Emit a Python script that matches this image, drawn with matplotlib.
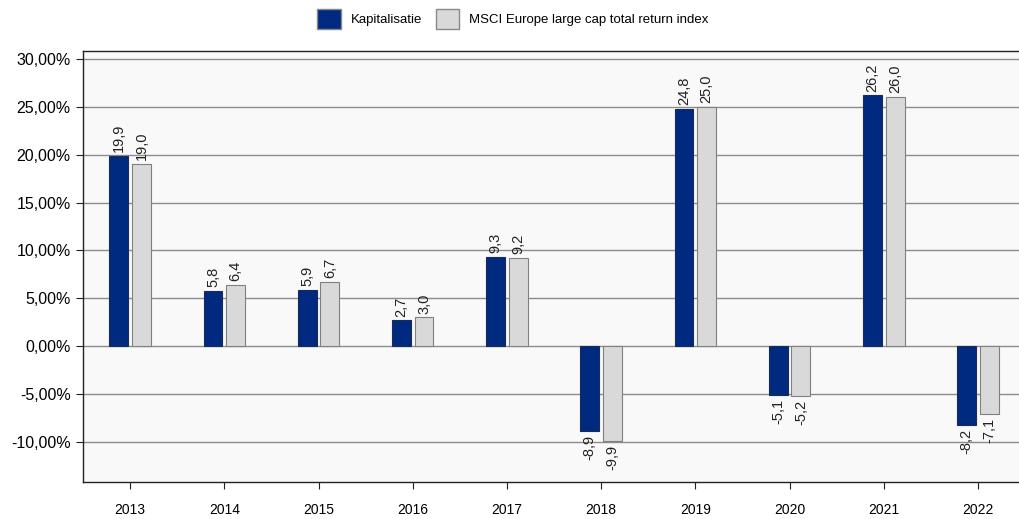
import matplotlib.pyplot as plt
import numpy as np
from matplotlib.ticker import FuncFormatter
from matplotlib.patches import Patch

plt.rcParams['font.family'] = ['Liberation Sans', 'DejaVu Sans']

years = ['2013', '2014', '2015', '2016', '2017', '2018', '2019', '2020', '2021', '2022']
kapitalisatie = [19.9, 5.8, 5.9, 2.7, 9.3, -8.9, 24.8, -5.1, 26.2, -8.2]
msci = [19.0, 6.4, 6.7, 3.0, 9.2, -9.9, 25.0, -5.2, 26.0, -7.1]

navy = '#002a7f'
light = '#d9d9d9'

fig = plt.figure(figsize=(10.2, 5.19), dpi=100)
ax = fig.add_axes([0.0814, 0.071, 0.9236, 0.831])
ax.set_facecolor('#f9f9f9')

x = np.arange(len(years))
w = 0.2
b1 = ax.bar(x - 0.12, kapitalisatie, w, color=navy, edgecolor='#1a2a5a', linewidth=0.8, zorder=3)
b2 = ax.bar(x + 0.12, msci, w, color=light, edgecolor='#808080', linewidth=0.8, zorder=3)

def label(bars, vals):
    for r, v in zip(bars, vals):
        cx = r.get_x() + r.get_width() / 2
        txt = f'{v:.1f}'.replace('.', ',')
        if v >= 0:
            ax.text(cx, v + 0.4, txt, rotation=90, ha='center', va='bottom', fontsize=10.5, color='#222222')
        else:
            ax.text(cx, v - 0.4, txt, rotation=90, ha='center', va='top', fontsize=10.5, color='#222222')

label(b1, kapitalisatie)
label(b2, msci)

ax.set_xlim(-0.5, 9.5)
ax.set_ylim(-14.2, 30.85)
ax.set_yticks(np.arange(-10, 31, 5))
ax.yaxis.set_major_formatter(FuncFormatter(lambda v, p: f'{v:.2f}%'.replace('.', ',')))
ax.set_xticks(x)
ax.set_xticklabels(years)
ax.grid(axis='y', color='#8c8c8c', linewidth=1.0, zorder=1)
ax.tick_params(axis='y', labelsize=11.5, length=5, color='#222222', pad=4)
ax.tick_params(axis='x', labelsize=10, length=5, color='#222222', pad=10)

for s in ['left', 'bottom', 'top']:
    ax.spines[s].set_color('#222222')
    ax.spines[s].set_linewidth(1.0)
ax.spines['right'].set_visible(False)

handles = [Patch(facecolor=navy, edgecolor='#888888', label='Kapitalisatie'),
           Patch(facecolor=light, edgecolor='#888888', label='MSCI Europe large cap total return index')]
fig.legend(handles=handles, loc='upper center', bbox_to_anchor=(0.503, 1.005), ncol=2, frameon=False,
           fontsize=9.5, handlelength=1.75, handleheight=1.9, columnspacing=1.0, handletextpad=0.8)

fig.savefig('out.png', dpi=100)
